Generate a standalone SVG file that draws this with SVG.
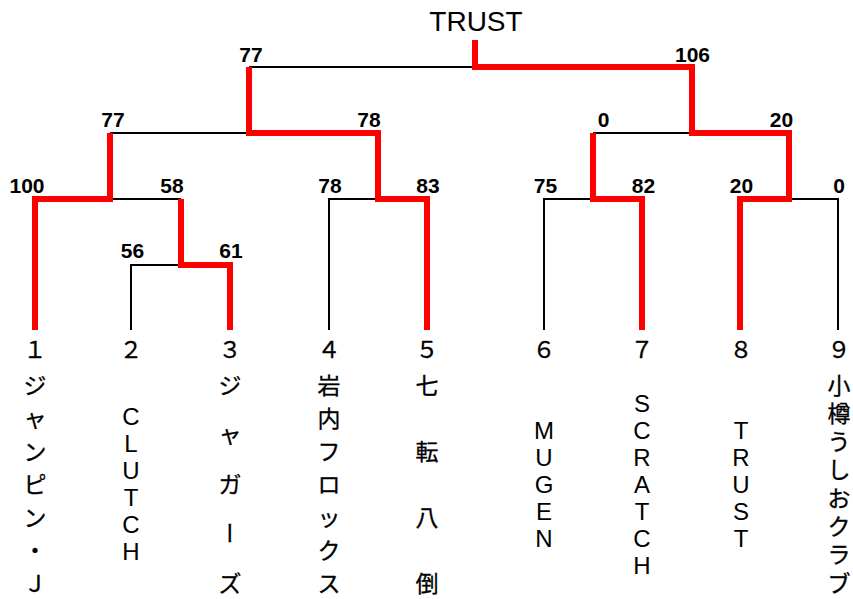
<svg xmlns="http://www.w3.org/2000/svg" width="853" height="599" viewBox="0 0 853 599">
<style>
.blk{fill:none;stroke:#000;stroke-width:2;stroke-linejoin:miter}
.red{fill:none;stroke:#ff0000;stroke-width:6;stroke-linejoin:miter;stroke-linecap:butt}
.num{font-family:"Liberation Sans",Arial,sans-serif;font-weight:bold;font-size:21px;text-anchor:middle;fill:#000}
.title{font-family:"Liberation Sans",Arial,sans-serif;font-size:28px;text-anchor:middle;fill:#000}
.jp{font-family:"Noto Sans CJK JP",sans-serif;font-size:23px;text-anchor:middle;fill:#000;stroke:#000;stroke-width:0.3}
.la{font-family:"Liberation Sans",Arial,sans-serif;font-size:24px;text-anchor:middle;fill:#000}
</style>
<rect width="853" height="599" fill="#fff"/>
<g id="connectors">
<path class="blk" d="M249,67 H475"/>
<path class="blk" d="M110,133 H249"/>
<path class="blk" d="M110,199 H181"/>
<path class="blk" d="M131,330 V265 H181"/>
<path class="blk" d="M329,330 V199 H378"/>
<path class="blk" d="M544,330 V199 H593"/>
<path class="blk" d="M593,133 H692"/>
<path class="blk" d="M789,199 H838 V330"/>
<path class="red" d="M475,40 V67 H692 V133 H789 V199 H740 V330"/>
<path class="red" d="M249,67 V133 H378 V199 H427 V330"/>
<path class="red" d="M593,133 V199 H642 V330"/>
<path class="red" d="M35,330 V199 H110 V133"/>
<path class="red" d="M181,199 V265 H230 V330"/>
</g>
<g id="scores">
<text class="title" x="476" y="30.5">TRUST</text>
<text class="num" x="251" y="62">77</text>
<text class="num" x="692.5" y="62">106</text>
<text class="num" x="113" y="127">77</text>
<text class="num" x="369" y="127">78</text>
<text class="num" x="603.5" y="127">0</text>
<text class="num" x="781.5" y="127">20</text>
<text class="num" x="27" y="193">100</text>
<text class="num" x="172" y="193">58</text>
<text class="num" x="330" y="193">78</text>
<text class="num" x="428" y="193">83</text>
<text class="num" x="545.5" y="193">75</text>
<text class="num" x="643.5" y="193">82</text>
<text class="num" x="741.5" y="193">20</text>
<text class="num" x="839" y="193">0</text>
<text class="num" x="132.5" y="258">56</text>
<text class="num" x="231" y="258">61</text>
</g>
<g id="team1">
<text class="jp" x="35" y="357.5">１</text>
<text class="jp" x="35" y="393.5">ジ</text>
<text class="jp" x="35" y="426.5">ャ</text>
<text class="jp" x="35" y="459.5">ン</text>
<text class="jp" x="35" y="492.5">ピ</text>
<text class="jp" x="35" y="525.5">ン</text>
<text class="jp" x="35" y="558.5">・</text>
<text class="jp" x="35" y="591.5">Ｊ</text>
</g>
<g id="team2">
<text class="jp" x="131" y="357.5">２</text>
<text class="la" x="131" y="424.5">C</text>
<text class="la" x="131" y="451.5">L</text>
<text class="la" x="131" y="478.5">U</text>
<text class="la" x="131" y="505.5">T</text>
<text class="la" x="131" y="532.5">C</text>
<text class="la" x="131" y="559.5">H</text>
</g>
<g id="team3">
<text class="jp" x="230" y="357.5">３</text>
<text class="jp" x="230" y="393.5">ジ</text>
<text class="jp" x="230" y="443">ャ</text>
<text class="jp" x="230" y="492.5">ガ</text>
<text class="jp" x="230" y="533.5" writing-mode="vertical-rl" style="writing-mode:vertical-rl">ー</text>
<text class="jp" x="230" y="591.5">ズ</text>
</g>
<g id="team4">
<text class="jp" x="329" y="357.5">４</text>
<text class="jp" x="329" y="393.5">岩</text>
<text class="jp" x="329" y="426.5">内</text>
<text class="jp" x="329" y="459.5">フ</text>
<text class="jp" x="329" y="492.5">ロ</text>
<text class="jp" x="329" y="525.5">ッ</text>
<text class="jp" x="329" y="558.5">ク</text>
<text class="jp" x="329" y="591.5">ス</text>
</g>
<g id="team5">
<text class="jp" x="427" y="357.5">５</text>
<text class="jp" x="427" y="393.5">七</text>
<text class="jp" x="427" y="459.5">転</text>
<text class="jp" x="427" y="525.5">八</text>
<text class="jp" x="427" y="591.5">倒</text>
</g>
<g id="team6">
<text class="jp" x="544" y="357.5">６</text>
<text class="la" x="544" y="438.5">M</text>
<text class="la" x="544" y="465.5">U</text>
<text class="la" x="544" y="492.5">G</text>
<text class="la" x="544" y="519.5">E</text>
<text class="la" x="544" y="546.5">N</text>
</g>
<g id="team7">
<text class="jp" x="642" y="357.5">７</text>
<text class="la" x="642" y="411.5">S</text>
<text class="la" x="642" y="438.5">C</text>
<text class="la" x="642" y="465.5">R</text>
<text class="la" x="642" y="492.5">A</text>
<text class="la" x="642" y="519.5">T</text>
<text class="la" x="642" y="546.5">C</text>
<text class="la" x="642" y="573.5">H</text>
</g>
<g id="team8">
<text class="jp" x="741" y="357.5">８</text>
<text class="la" x="741" y="438.5">T</text>
<text class="la" x="741" y="465.5">R</text>
<text class="la" x="741" y="492.5">U</text>
<text class="la" x="741" y="519.5">S</text>
<text class="la" x="741" y="546.5">T</text>
</g>
<g id="team9">
<text class="jp" x="839" y="357.5">９</text>
<text class="jp" x="839" y="393.5">小</text>
<text class="jp" x="839" y="421.8">樽</text>
<text class="jp" x="839" y="450.1">う</text>
<text class="jp" x="839" y="478.4">し</text>
<text class="jp" x="839" y="506.6">お</text>
<text class="jp" x="839" y="534.9">ク</text>
<text class="jp" x="839" y="563.2">ラ</text>
<text class="jp" x="839" y="591.5">ブ</text>
</g>
</svg>
